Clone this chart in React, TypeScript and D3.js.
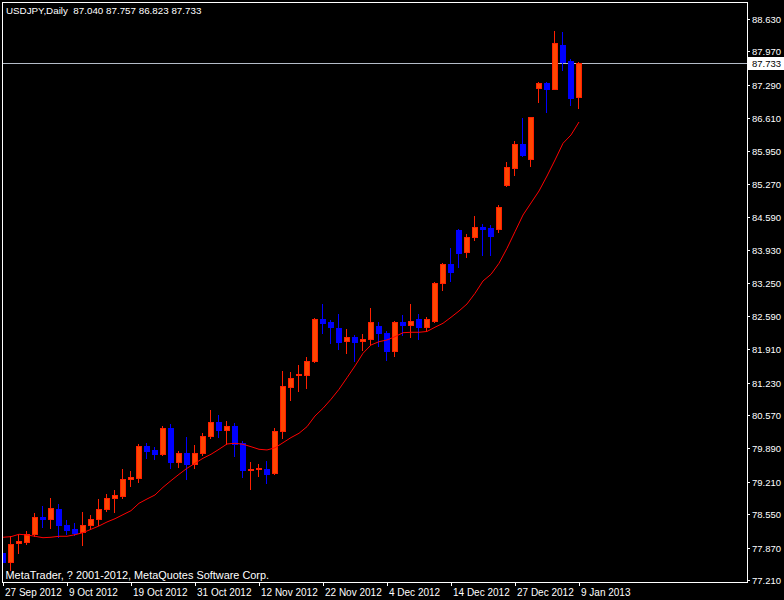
import React from 'react';
import * as d3 from 'd3';

// USDJPY daily bars, 27 Sep 2012 .. 9 Jan 2013
const opens = [
  77.760, 77.577, 77.963, 77.990, 78.153, 78.487, 78.458, 78.650, 78.324, 78.242,
  78.181, 78.324, 78.446, 78.650, 78.886, 78.926, 79.260, 79.293, 79.938, 79.857,
  79.781, 80.304, 79.618, 79.789, 79.578, 79.789, 80.136, 80.427, 80.270, 80.345,
  79.993, 79.456, 79.476, 79.470, 79.382, 80.233, 81.145, 81.377, 81.389, 81.662,
  82.517, 82.462, 82.340, 82.069, 82.151, 82.069, 82.110, 82.381, 82.232, 81.878,
  82.456, 82.395, 82.517, 82.354, 82.489, 83.250, 83.643, 84.335, 83.881, 84.186,
  84.390, 84.376, 84.361, 85.257, 85.607, 86.082, 85.790, 87.219, 87.327, 87.211,
  88.101, 87.775, 87.040,
];
const highs = [
  77.821, 78.106, 78.147, 78.208, 78.568, 78.717, 78.880, 78.757, 78.432, 78.371,
  78.595, 78.534, 78.859, 78.961, 79.042, 79.470, 79.429, 79.973, 79.993, 79.912,
  80.345, 80.386, 79.836, 80.121, 79.958, 80.203, 80.671, 80.569, 80.447, 80.406,
  80.040, 79.612, 79.572, 79.627, 80.304, 81.465, 81.444, 81.587, 81.750, 82.544,
  82.829, 82.509, 82.625, 82.314, 82.191, 82.218, 82.747, 82.456, 82.273, 82.476,
  82.599, 82.829, 82.619, 82.558, 83.283, 83.657, 83.969, 84.355, 84.247, 84.620,
  84.451, 84.431, 84.838, 85.719, 86.141, 86.621, 86.629, 87.348, 87.354, 88.392,
  88.372, 87.816, 87.757,
];
const lows = [
  77.516, 77.414, 77.760, 77.943, 78.112, 78.283, 78.269, 78.080, 78.147, 78.126,
  77.929, 78.255, 78.324, 78.615, 78.595, 78.886, 79.130, 79.211, 79.700, 79.680,
  79.755, 79.496, 79.517, 79.272, 79.496, 79.755, 80.107, 80.121, 79.985, 79.734,
  79.307, 79.069, 79.334, 79.191, 79.368, 80.107, 80.880, 81.064, 81.125, 81.654,
  82.244, 82.041, 81.913, 81.837, 81.674, 81.898, 82.014, 81.980, 81.695, 81.776,
  82.191, 82.163, 82.110, 82.273, 82.468, 83.120, 83.303, 83.588, 83.791, 84.131,
  83.826, 83.832, 84.300, 85.237, 85.461, 85.847, 85.644, 86.947, 86.743, 87.211,
  87.592, 86.879, 86.823,
];
const closes = [
  77.577, 77.943, 77.994, 78.141, 78.487, 78.452, 78.670, 78.324, 78.234, 78.167,
  78.324, 78.446, 78.650, 78.873, 78.935, 79.260, 79.301, 79.938, 79.842, 79.781,
  80.304, 79.618, 79.789, 79.578, 79.789, 80.142, 80.420, 80.270, 80.339, 79.985,
  79.456, 79.470, 79.484, 79.374, 80.237, 81.153, 81.316, 81.398, 81.662, 82.517,
  82.448, 82.367, 82.061, 82.151, 82.061, 82.110, 82.456, 82.232, 81.878, 82.456,
  82.395, 82.476, 82.354, 82.517, 83.250, 83.637, 83.486, 83.873, 84.186, 84.390,
  84.361, 84.219, 84.797, 85.611, 86.082, 85.862, 86.629, 87.327, 87.211, 88.141,
  87.761, 87.028, 87.733,
];
// moving average line as drawn on the chart
const maValues = [
  78.080, 78.092, 78.141, 78.126, 78.100, 78.071, 78.080, 78.100, 78.100, 78.132,
  78.173, 78.242, 78.310, 78.391, 78.458, 78.540, 78.621, 78.772, 78.859, 78.941,
  79.097, 79.232, 79.362, 79.484, 79.586, 79.688, 79.769, 79.871, 79.979, 79.993,
  79.973, 79.924, 79.871, 79.857, 79.901, 80.005, 80.109, 80.197, 80.331, 80.549,
  80.705, 80.889, 81.092, 81.328, 81.567, 81.825, 81.994, 82.061, 82.096, 82.163,
  82.244, 82.253, 82.253, 82.269, 82.356, 82.436, 82.558, 82.686, 82.829, 83.046,
  83.297, 83.433, 83.657, 83.962, 84.300, 84.640, 84.885, 85.129, 85.434, 85.760,
  86.100, 86.269, 86.533,
];

const priceTicks = [
  88.63, 87.97, 87.29, 86.61, 85.95, 85.27, 84.59, 83.93, 83.25, 82.59,
  81.91, 81.23, 80.57, 79.89, 79.21, 78.55, 77.87, 77.21,
];
const dateTicks = [
  '27 Sep 2012', '9 Oct 2012', '19 Oct 2012', '31 Oct 2012', '12 Nov 2012',
  '22 Nov 2012', '4 Dec 2012', '14 Dec 2012', '27 Dec 2012', '9 Jan 2013',
];
const barsPerDateTick = 8;

const symbolTitle = 'USDJPY,Daily';
const lastBar = { open: 87.040, high: 87.757, low: 86.823, close: 87.733 };

const W = 784;
const H = 600;
const frame = { left: 2, top: 2, right: 747, bottom: 582 };
const FONT = '"Liberation Sans", Arial, sans-serif';

const BULL_FILL = '#FF4500';
const BULL_LINE = '#FF2000';
const BEAR = '#0000FF';

const App: React.FC = () => {
  const idx = d3.range(opens.length);
  const x = d3.scaleLinear().domain([0, opens.length - 1]).range([3, 579]);
  const y = d3.scaleLinear().domain([77.21, 88.63]).range([580, 19]);

  const maLine = d3.line<number>()
    .x((_, i) => x(i))
    .y(d => y(d));

  const cur = lastBar.close;
  const curY = Math.round(y(cur)) + 0.5;

  return (
    <div style={{ position: 'fixed', left: 0, top: 0, width: W, height: H, background: '#000' }}>
      <svg width={W} height={H} style={{ display: 'block' }} fontFamily={FONT}>
        <rect x={0} y={0} width={W} height={H} fill="#000" />
        <defs>
          <clipPath id="plot">
            <rect x={frame.left + 1} y={frame.top + 1} width={frame.right - frame.left - 1} height={frame.bottom - frame.top - 1} />
          </clipPath>
        </defs>

        <g clipPath="url(#plot)" shapeRendering="crispEdges">
          {/* current price line */}
          <line x1={frame.left} x2={frame.right} y1={curY} y2={curY} stroke="#B4BCC8" strokeWidth={1} />

          {idx.map(i => {
            const o = opens[i], c = closes[i];
            const bull = c >= o;
            const cx = x(i);
            const yTop = Math.round(y(Math.max(o, c)));
            const yBot = Math.round(y(Math.min(o, c)));
            const hy = Math.round(y(highs[i]));
            const ly = Math.round(y(lows[i]));
            const wickCol = bull ? BULL_LINE : BEAR;
            return (
              <g key={i}>
                <line x1={cx - 0.5} x2={cx - 0.5} y1={hy} y2={ly + 1} stroke={wickCol} strokeWidth={1} />
                {yBot - yTop < 1 ? (
                  <line x1={cx - 3} x2={cx + 3} y1={yTop + 0.5} y2={yTop + 0.5} stroke={wickCol} strokeWidth={1} />
                ) : (
                  <rect
                    x={cx - 2.5}
                    y={yTop + 0.5}
                    width={5}
                    height={yBot - yTop}
                    fill={bull ? BULL_FILL : BEAR}
                    stroke={wickCol}
                    strokeWidth={1}
                  />
                )}
              </g>
            );
          })}
        </g>

        <g clipPath="url(#plot)">
          <path d={maLine(maValues) || ''} fill="none" stroke="#FF0000" strokeWidth={1} />
        </g>

        {/* frame */}
        <rect
          x={frame.left + 0.5}
          y={frame.top + 0.5}
          width={frame.right - frame.left}
          height={frame.bottom - frame.top}
          fill="none"
          stroke="#fff"
          strokeWidth={1}
          shapeRendering="crispEdges"
        />

        {/* price axis */}
        {priceTicks.map(p => {
          const ty = Math.round(y(p)) + 0.5;
          return (
            <g key={p}>
              <line x1={frame.right} x2={frame.right + 3} y1={ty} y2={ty} stroke="#fff" shapeRendering="crispEdges" />
              <text x={frame.right + 5} y={ty + 3.5} fill="#fff" fontSize={9.5}>{p.toFixed(3)}</text>
            </g>
          );
        })}

        {/* current price label */}
        <rect x={frame.right + 1} y={curY - 6.5} width={36} height={13} fill="#fff" />
        <text x={frame.right + 5} y={curY + 3.5} fill="#000" fontSize={9.5}>{cur.toFixed(3)}</text>

        {/* date axis */}
        {dateTicks.map((lab, k) => {
          const tx = Math.round(x(k * barsPerDateTick)) + 0.5;
          return (
            <g key={lab}>
              <line x1={tx} x2={tx} y1={frame.bottom} y2={frame.bottom + 4} stroke="#fff" shapeRendering="crispEdges" />
              <text x={tx + 1.5} y={596} fill="#fff" fontSize={10}>{lab}</text>
            </g>
          );
        })}

        <text x={6} y={13.5} fill="#fff" fontSize={9.8} style={{ whiteSpace: 'pre' }}>
          {`${symbolTitle}  ${lastBar.open.toFixed(3)} ${lastBar.high.toFixed(3)} ${lastBar.low.toFixed(3)} ${lastBar.close.toFixed(3)}`}
        </text>
        <text x={5.5} y={578.5} fill="#fff" fontSize={10.9}>MetaTrader, ? 2001-2012, MetaQuotes Software Corp.</text>
      </svg>
    </div>
  );
};

export default App;
